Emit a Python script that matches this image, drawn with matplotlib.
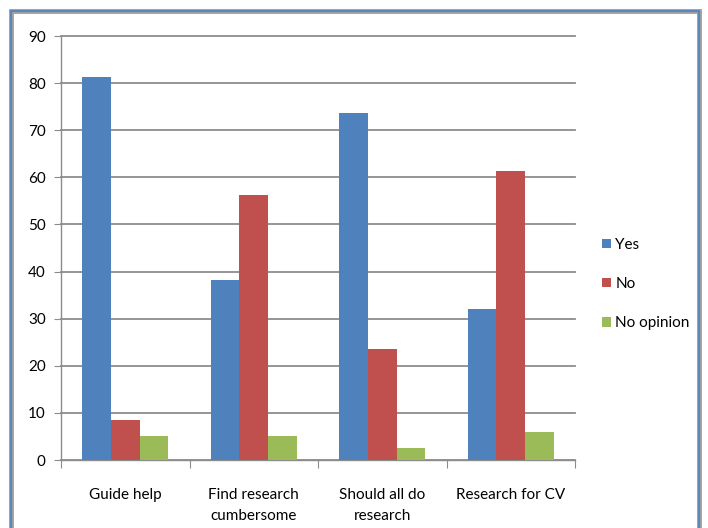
import numpy as np
import matplotlib.pyplot as plt
from matplotlib.patches import Rectangle

categorias = ["Guide help", "Find research\ncumbersome", "Should all do\nresearch", "Research for CV"]
series = ["Yes", "No", "No opinion"]
si = [81.2, 38.2, 73.7, 32.0]
no = [8.4, 56.3, 23.5, 61.4]
sin_opinion = [5.0, 5.0, 2.5, 6.0]
colores = ["#4f81bd", "#c0504d", "#9bbb59"]

plt.rcParams['font.family'] = ['Lato', 'DejaVu Sans']

fig = plt.figure(figsize=(7.08, 5.28), dpi=100, facecolor='white')
ax = fig.add_axes([61 / 708, 1 - 460 / 528, 514 / 708, 424 / 528])

x = np.arange(len(categorias))
ancho = 1 / 4.5
for k, (valores, nombre) in enumerate(zip([si, no, sin_opinion], series)):
    ax.bar(x + (k - 1) * ancho, valores, width=ancho, color=colores[k],
           label=nombre, zorder=3)

ax.set_xlim(-0.5, len(categorias) - 0.5)
ax.set_ylim(0, 90)
ax.set_yticks(range(0, 91, 10))
ax.yaxis.grid(True, color='#8c8c8c', linewidth=1.3, zorder=0)
for linea in ax.get_ygridlines():
    linea.set_clip_on(False)
ax.tick_params(axis='y', length=5, color='#8c8c8c', labelsize=11, pad=6)

# ticks del eje x en los limites de categoria
ax.set_xticks(np.arange(-0.5, len(categorias), 1.0), minor=False)
ax.set_xticklabels([])
ax.set_xticks(x, minor=True)
ax.set_xticklabels(categorias, minor=True, fontsize=11, linespacing=1.7)
ax.tick_params(axis='x', which='major', length=6, color='#8c8c8c')
ax.tick_params(axis='x', which='minor', length=0, pad=20)

for lado in ['top', 'right']:
    ax.spines[lado].set_visible(False)
for lado in ['left', 'bottom']:
    ax.spines[lado].set_color('#8c8c8c')
    ax.spines[lado].set_linewidth(1.0)

ax.legend(loc='center left', bbox_to_anchor=(1.025, (460 - 284) / 424), frameon=False,
          fontsize=11, handlelength=0.6, handleheight=0.6, handletextpad=0.3,
          labelspacing=1.65)

# marco exterior
fig.patches.append(Rectangle((11 / 708, -0.05), 688 / 708, 1.05 - 11 / 528,
                             transform=fig.transFigure, fill=False,
                             edgecolor='#a0a0a0', linewidth=3.5))
fig.patches.append(Rectangle((11 / 708, -0.05), 688 / 708, 1.05 - 11 / 528,
                             transform=fig.transFigure, fill=False,
                             edgecolor='#4f81bd', linewidth=1.2))

fig.savefig('out.png', dpi=100, facecolor='white')
